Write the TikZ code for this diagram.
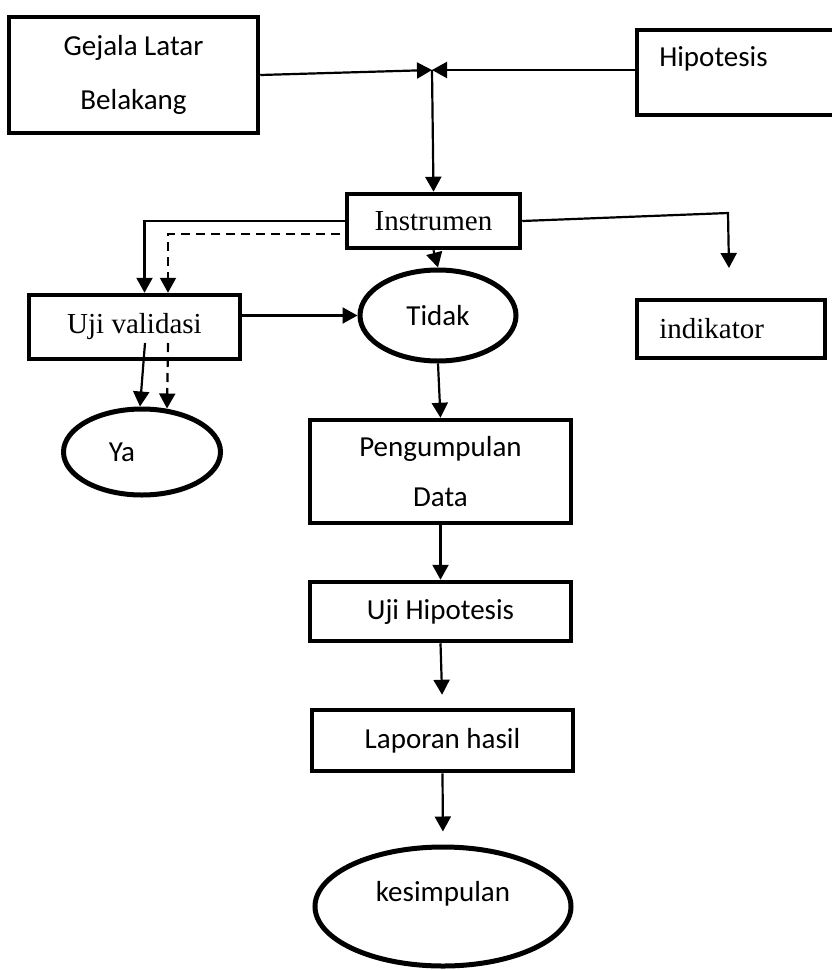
\documentclass[tikz,border=0pt]{standalone}
\usepackage{fontspec}
\setmainfont{Carlito}
\newfontfamily\timesfont{Liberation Serif}
\usetikzlibrary{shapes.geometric,arrows.meta}

\begin{document}
\begin{tikzpicture}[x=1pt,y=-1pt,
      every node/.style={font=\fontsize{29}{34}\selectfont},
      box/.style={draw,rectangle,line width=4.5pt,inner sep=0pt},
      oval/.style={draw,ellipse,line width=5pt,inner sep=0pt},
      conn/.style={line width=2.2pt,-{Triangle[length=15pt,width=16pt]}}]
    \useasboundingbox (0,0) rectangle (832,970);
    % top row
    \node[box,minimum width=249pt,minimum height=116pt,align=center,
          font=\fontsize{29}{54}\selectfont] (gejala) at (133.5,75) {Gejala Latar\\Belakang};
    \node[box,minimum width=203pt,minimum height=85pt,
          label={[anchor=west,xshift=21pt,yshift=14pt]west:Hipotesis}] (hipo) at (738.5,72.5) {};
    \coordinate (jct) at (432,70);
    \draw[conn] (gejala.east) -- (jct);
    \draw[conn] (hipo.west |- jct) -- (jct);
    % instrumen
    \node[box,minimum width=173pt,minimum height=54pt,font=\fontsize{29}{34}\timesfont] (instr) at (433.5,221) {Instrumen};
    \draw[conn] (jct) -- (instr.north);
    % second row
    \node[box,minimum width=211pt,minimum height=64pt,font=\fontsize{29}{34}\timesfont] (ujival) at (134.5,327) {Uji validasi};
    \node[oval,minimum width=156pt,minimum height=91pt] (tidak) at (438,315.5) {Tidak};
    \node[box,minimum width=188pt,minimum height=58pt,
          label={[anchor=west,xshift=21pt,font=\fontsize{29}{34}\timesfont]west:indikator}] (indik) at (731,329) {};
    \coordinate (rt) at (728,213);
    \coordinate (rtend) at (729,268);
    \draw[conn] (instr.west) -| ([xshift=10pt]ujival.north);
    \draw[conn,dash pattern=on 9pt off 6pt] ([xshift=-5pt,yshift=-13pt]instr.west) -| ([xshift=33.5pt]ujival.north);
    \draw[conn] (instr.east) -- (rt) -- (rtend);
    \draw[conn] (instr.south) -- (tidak.north);
    \draw[conn] (ujival.east |- tidak.west) -- (tidak.west);
    % ya
    \node[oval,minimum width=157pt,minimum height=86pt,
          label={[xshift=-20pt]center:Ya}] (ya) at (142,452) {};
    \draw[conn] ([xshift=10.5pt,yshift=-16pt]ujival.center) -- ([xshift=-2pt]ya.north);
    \draw[conn,dash pattern=on 9pt off 6pt] ([xshift=33.5pt,yshift=-16pt]ujival.center) -- ([xshift=25pt,yshift=-2pt]ya.north);
    % main column
    \node[box,minimum width=261pt,minimum height=103pt,align=center,
          font=\fontsize{29}{50}\selectfont] (kumpul) at (440.5,471.5) {Pengumpulan\\Data};
    \node[box,minimum width=261pt,minimum height=59pt] (ujihip) at (440.5,611.5) {Uji Hipotesis};
    \node[box,minimum width=261pt,minimum height=61pt] (lapor) at (442.5,740.5) {Laporan hasil};
    \node[oval,minimum width=256pt,minimum height=119pt,
          label={[yshift=13pt]center:kesimpulan}] (simpul) at (443,906.5) {};
    \draw[conn] (tidak.south) -- (kumpul.north);
    \draw[conn] (kumpul.south) -- (ujihip.north);
    \draw[conn,shorten >=13pt] (ujihip.south) -- (lapor.north);
    \draw[conn,shorten >=13pt] (lapor.south) -- (simpul.north);
  \end{tikzpicture}
\end{document}
